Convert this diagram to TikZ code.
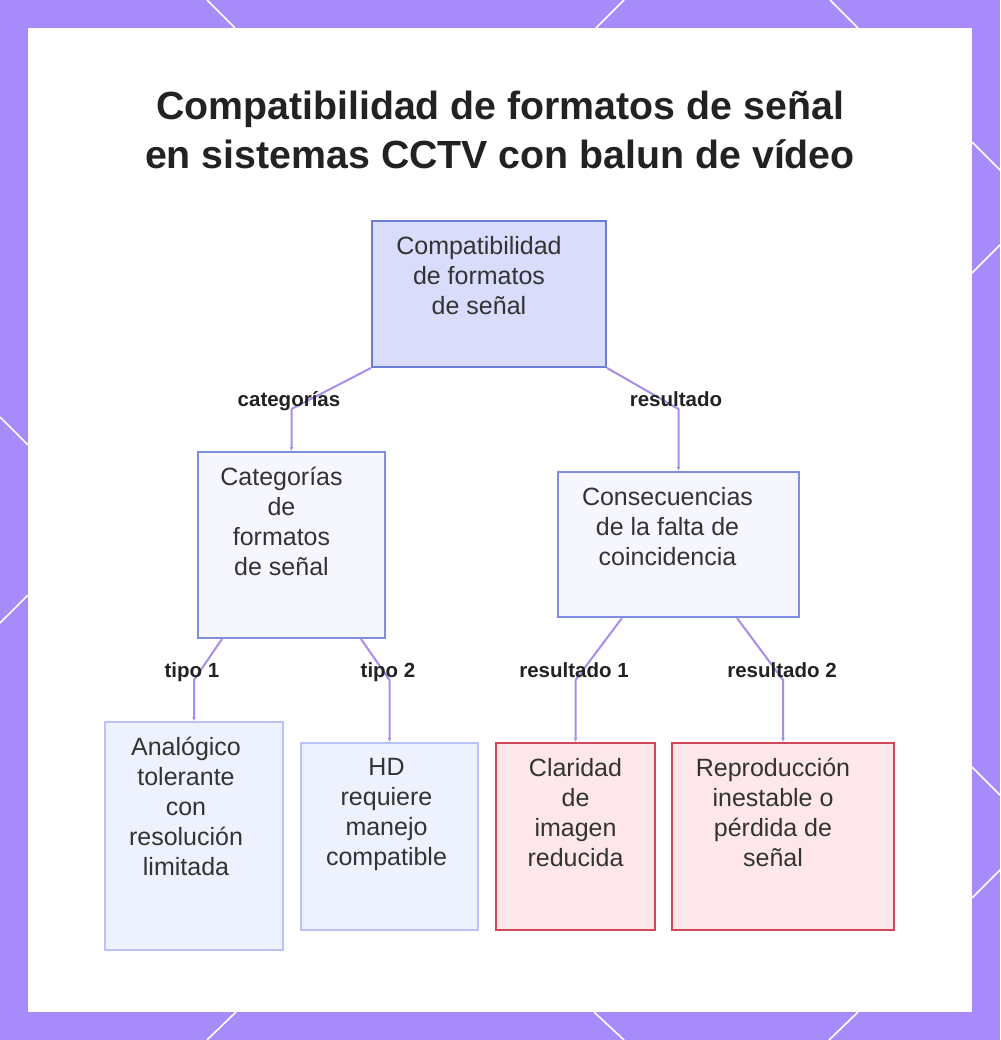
\documentclass[tikz,border=0pt]{standalone}
\usepackage{fontspec}
\setmainfont{Liberation Sans}
\usetikzlibrary{arrows.meta}
\definecolor{bgpurple}{HTML}{A78BFA}
\definecolor{titlecol}{HTML}{222222}
\definecolor{txtcol}{HTML}{333333}
\definecolor{connc}{HTML}{A98CEB}
\definecolor{fillA}{HTML}{D9DCFB}
\definecolor{drawA}{HTML}{6D7CD5}
\definecolor{fillB}{HTML}{F5F6FE}
\definecolor{drawB}{HTML}{7F8EE0}
\definecolor{fillC}{HTML}{EEF1FE}
\definecolor{drawC}{HTML}{BAC3F5}
\definecolor{fillD}{HTML}{FDE7EB}
\definecolor{drawD}{HTML}{D2475D}
\newcommand{\boxtxt}[4]{\parbox[c][#2][t]{#1}{\vspace*{15pt}\centering\rightskip=#3 plus 1fil\relax #4\par}}
\tikzset{
  bx/.style={inner sep=0pt, line width=2pt, text=txtcol, font=\fontsize{25}{30}\selectfont},
  bxA/.style={bx, fill=fillA, draw=drawA},
  bxB/.style={bx, fill=fillB, draw=drawB},
  bxC/.style={bx, fill=fillC, draw=drawC},
  bxD/.style={bx, fill=fillD, draw=drawD},
  conn/.style={draw=connc, line width=2pt, -{Latex[length=4pt,width=4pt]}},
  lbl/.style={inner sep=0pt, anchor=base, text=titlecol, font=\bfseries\fontsize{20.5}{24}\selectfont},
  hexline/.style={draw=white, line width=1.6pt}
}
\begin{document}
\begin{tikzpicture}[x=1pt,y=-1pt]
\useasboundingbox (0,0) rectangle (1000,1040);
\fill[bgpurple] (0,0) rectangle (1000,1040);
% white hexagon edges on the frame
\draw[hexline] (207,0) -- (235,28);
\draw[hexline] (624,0) -- (596,28);
\draw[hexline] (830,0) -- (858,28);
\draw[hexline] (236,1012) -- (207,1040);
\draw[hexline] (594,1012) -- (624,1040);
\draw[hexline] (858,1012) -- (829,1040);
\draw[hexline] (0,417) -- (28,445);
\draw[hexline] (28,595) -- (0,623);
\draw[hexline] (972,142) -- (1000,170);
\draw[hexline] (1000,245) -- (972,273);
\draw[hexline] (972,767) -- (1000,795);
\draw[hexline] (1000,870) -- (972,898);
% panel
\fill[white] (28,28) rectangle (972,1012);

% title
\node[anchor=north, align=center, inner sep=0pt, text=titlecol,
      font=\bfseries\fontsize{39.3}{48.5}\selectfont] (title) at (500,91)
  {Compatibilidad de formatos de señal\\en sistemas CCTV con balun de vídeo};

% boxes
\node[bxA] (top) at (489,294) {\boxtxt{234pt}{146pt}{20pt}{Compatibilidad\\de formatos\\de señal}};
\node[bxB] (cat) at (291.5,545) {\boxtxt{187pt}{186pt}{20pt}{Categorías\\de\\formatos\\de señal}};
\node[bxB] (cons) at (678.5,544.5) {\boxtxt{241pt}{145pt}{22pt}{Consecuencias\\de la falta de\\coincidencia}};
\node[bxC] (ana) at (194,836) {\boxtxt{178pt}{228pt}{16pt}{Analógico\\tolerante\\con\\resolución\\limitada}};
\node[bxC] (hd) at (389.5,836.5) {\boxtxt{177pt}{187pt}{6pt}{HD\\requiere\\manejo\\compatible}};
\node[bxD] (cla) at (575.5,836.5) {\boxtxt{159pt}{187pt}{0pt}{Claridad\\de\\imagen\\reducida}};
\node[bxD] (rep) at (783,836.5) {\boxtxt{222pt}{187pt}{20pt}{Reproducción\\inestable o\\pérdida de\\señal}};

% connectors
\draw[conn] (top.south west) -- (cat.north |- 0,409) -- (cat.north);
\draw[conn] (top.south east) -- (cons.north |- 0,409) -- (cons.north);
\draw[conn] ([xshift=25pt]cat.south west) -- (ana.north |- 0,680) -- (ana.north);
\draw[conn] ([xshift=-25pt]cat.south east) -- (hd.north |- 0,680) -- (hd.north);
\draw[conn] ([xshift=65pt]cons.south west) -- (cla.north |- 0,680) -- (cla.north);
\draw[conn] ([xshift=-63pt]cons.south east) -- (rep.north |- 0,680) -- (rep.north);

% labels
\node[lbl] (l1) at (289,406) {categorías};
\node[lbl] (l2) at (676,406) {resultado};
\node[lbl] (l3) at (192,677) {tipo 1};
\node[lbl] (l4) at (388,677) {tipo 2};
\node[lbl] (l5) at (574,677) {resultado 1};
\node[lbl] (l6) at (782,677) {resultado 2};
\end{tikzpicture}
\end{document}
